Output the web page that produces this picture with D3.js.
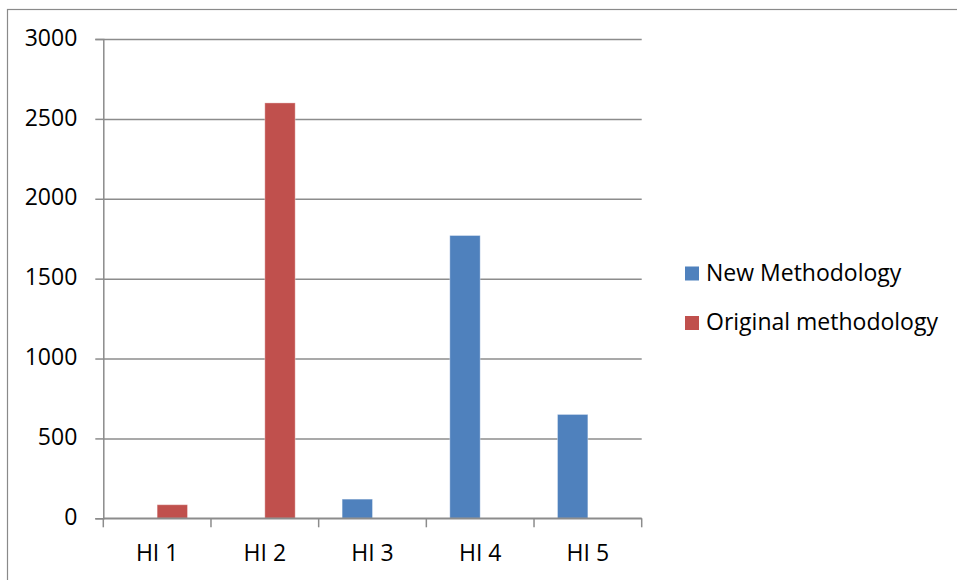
<!DOCTYPE html>
<html>
<head>
<meta charset="utf-8">
<script src="https://cdn.jsdelivr.net/npm/d3@7"></script>
<style>
  html, body { margin: 0; padding: 0; background: #fff; }
  svg { display: block; }
  text { font-family: "Open Sans", sans-serif; fill: #000; }
</style>
</head>
<body>
<svg id="chart" width="957" height="580"></svg>
<script>
// Categories and series values
const categories = ["HI 1", "HI 2", "HI 3", "HI 4", "HI 5"];
const seriesNames = ["New Methodology", "Original methodology"];
const newMethodology = [0, 0, 120, 1770, 650];
const originalMethodology = [85, 2600, 0, 0, 0];
const yTicks = [0, 500, 1000, 1500, 2000, 2500, 3000];
const seriesColors = ["#4f81bd", "#c0504d"];

const svg = d3.select("#chart");
const W = 957, H = 580;
const plot = { left: 103.3, right: 641.7, top: 39, bottom: 518.3 };
const fontSize = 23;

// Outer chart frame (continues past the right and bottom edges)
svg.append("rect")
  .attr("x", 7.5).attr("y", 9.5)
  .attr("width", W + 20).attr("height", H + 20)
  .attr("fill", "none").attr("stroke", "#8a8a8a").attr("stroke-width", 1.2);

const x = d3.scaleBand().domain(categories).range([plot.left, plot.right]).padding(0);
const y = d3.scaleLinear().domain([0, 3000]).range([plot.bottom, plot.top]);
const barW = x.bandwidth() * 0.282;

const gridColor = "#8c8c8c";

// Horizontal gridlines with left tick marks
const yAxis = d3.axisLeft(y).tickValues(yTicks).tickSize(8).tickFormat(d => d);
const gy = svg.append("g").attr("transform", `translate(${plot.left},0)`).call(yAxis);
gy.attr("font-family", null).attr("font-size", null);
gy.select(".domain").attr("stroke", gridColor).attr("stroke-width", 1.5);
gy.selectAll(".tick line").attr("stroke", gridColor).attr("stroke-width", 1.5);
gy.selectAll(".tick text")
  .attr("x", -26).attr("dy", "0.27em")
  .style("font-size", fontSize + "px");
gy.selectAll(".tick").append("line")
  .attr("x1", 0).attr("x2", plot.right - plot.left)
  .attr("stroke", gridColor).attr("stroke-width", 1.5);

// Bars
const data = [newMethodology, originalMethodology];
data.forEach((vals, si) => {
  svg.append("g").selectAll("rect")
    .data(categories.map((c, i) => ({ c, v: vals[i] })).filter(d => d.v > 0))
    .join("rect")
    .attr("x", d => x(d.c) + x.bandwidth() / 2 - barW + si * barW)
    .attr("y", d => y(d.v))
    .attr("width", barW)
    .attr("height", d => y(0) - y(d.v))
    .attr("fill", seriesColors[si])
    .attr("stroke", "rgba(255,255,255,0.35)")
    .attr("stroke-width", 1);
});

// Category axis with boundary ticks
const gx = svg.append("g").attr("transform", `translate(0,${plot.bottom})`);
gx.append("line")
  .attr("x1", plot.left).attr("x2", plot.right)
  .attr("stroke", gridColor).attr("stroke-width", 1.5);
const bounds = categories.map(c => x(c)).concat([plot.right]);
gx.selectAll("line.tk").data(bounds).join("line").attr("class", "tk")
  .attr("x1", d => d).attr("x2", d => d)
  .attr("y1", 0).attr("y2", 9)
  .attr("stroke", gridColor).attr("stroke-width", 1.5);
gx.selectAll("text").data(categories).join("text")
  .attr("x", d => x(d) + x.bandwidth() / 2)
  .attr("y", 42.5)
  .attr("text-anchor", "middle")
  .style("font-size", fontSize + "px")
  .text(d => d);

// Legend
const legend = svg.append("g").attr("transform", "translate(685,266.5)");
seriesNames.forEach((name, i) => {
  const g = legend.append("g").attr("transform", `translate(0,${i * 49.5})`);
  g.append("rect").attr("width", 14).attr("height", 14).attr("fill", seriesColors[i]);
  g.append("text").attr("x", 21).attr("y", 14)
    .style("font-size", fontSize + "px").text(name);
});
</script>
</body>
</html>
